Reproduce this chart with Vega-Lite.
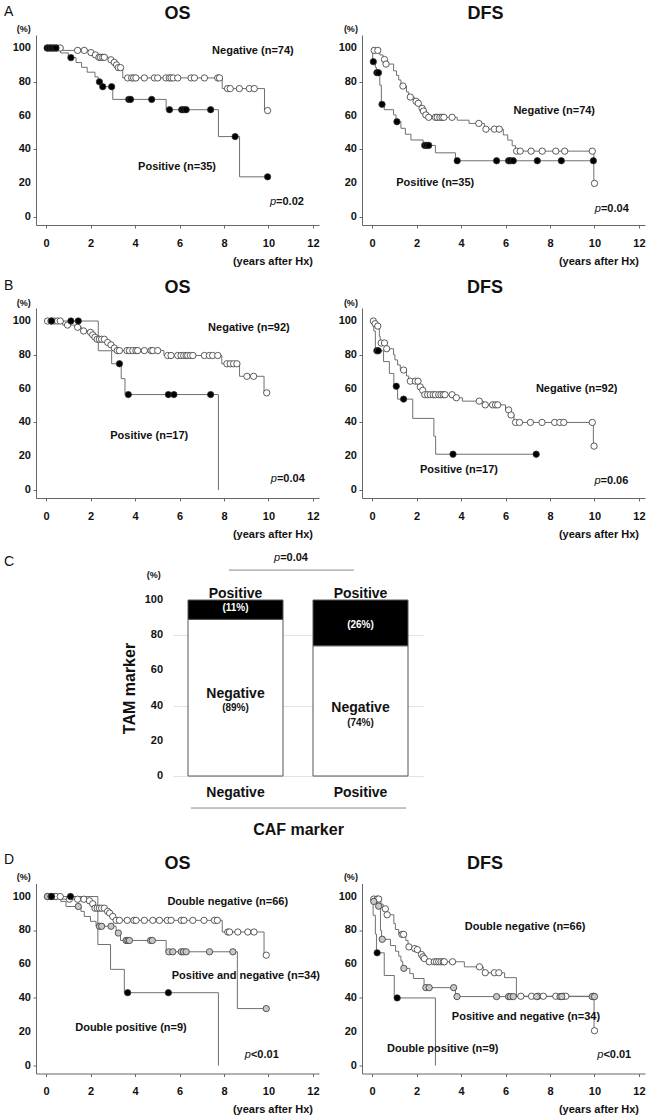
{
"$schema":"https://vega.github.io/schema/vega-lite/v6.json",
"padding":{"left":3,"top":4,"right":0,"bottom":0},
"config":{"font":"Liberation Sans","view":{"stroke":null},
 "axis":{"labelFont":"Liberation Sans","labelFontWeight":"bold","labelColor":"#111","labelFontSize":11,"domainColor":"#666","tickColor":"#666","grid":false,"titleFont":"Liberation Sans","titleColor":"#111","labelOverlap":false,"labelBound":false,"labelFlush":false},
 "text":{"font":"Liberation Sans","color":"#111"}},
"datasets":{
"yt":[{"v":0},{"v":20},{"v":40},{"v":60},{"v":80},{"v":100}],
"aos":[
{"g":"Negative","t":0,"s":100,"c":0},{"g":"Negative","t":0.07,"s":100,"c":1},{"g":"Negative","t":0.2,"s":100,"c":1},{"g":"Negative","t":0.35,"s":100,"c":1},{"g":"Negative","t":0.5,"s":100,"c":1},{"g":"Negative","t":0.64,"s":100,"c":1},{"g":"Negative","t":0.75,"s":98.6,"c":0},{"g":"Negative","t":1.42,"s":98.6,"c":1},{"g":"Negative","t":1.72,"s":98.6,"c":1},{"g":"Negative","t":1.95,"s":97.3,"c":0},{"g":"Negative","t":2.02,"s":97.3,"c":1},{"g":"Negative","t":2.1,"s":95.9,"c":0},{"g":"Negative","t":2.22,"s":95.9,"c":1},{"g":"Negative","t":2.3,"s":94.5,"c":0},{"g":"Negative","t":2.38,"s":94.5,"c":1},{"g":"Negative","t":2.45,"s":94.5,"c":1},{"g":"Negative","t":2.55,"s":94.5,"c":1},{"g":"Negative","t":2.62,"s":94.5,"c":1},{"g":"Negative","t":2.85,"s":93.0,"c":0},{"g":"Negative","t":2.92,"s":93.0,"c":1},{"g":"Negative","t":3.0,"s":91.5,"c":0},{"g":"Negative","t":3.07,"s":91.5,"c":1},{"g":"Negative","t":3.12,"s":90.0,"c":0},{"g":"Negative","t":3.17,"s":90.0,"c":1},{"g":"Negative","t":3.2,"s":88.4,"c":0},{"g":"Negative","t":3.25,"s":88.4,"c":1},{"g":"Negative","t":3.35,"s":88.4,"c":1},{"g":"Negative","t":3.45,"s":82.3,"c":0},{"g":"Negative","t":3.67,"s":82.3,"c":1},{"g":"Negative","t":3.85,"s":82.3,"c":1},{"g":"Negative","t":3.94,"s":82.3,"c":1},{"g":"Negative","t":4.04,"s":82.3,"c":1},{"g":"Negative","t":4.42,"s":82.3,"c":1},{"g":"Negative","t":4.87,"s":82.3,"c":1},{"g":"Negative","t":5.02,"s":82.3,"c":1},{"g":"Negative","t":5.39,"s":82.3,"c":1},{"g":"Negative","t":5.54,"s":82.3,"c":1},{"g":"Negative","t":5.62,"s":82.3,"c":1},{"g":"Negative","t":5.72,"s":82.3,"c":1},{"g":"Negative","t":5.92,"s":82.3,"c":1},{"g":"Negative","t":6.52,"s":82.3,"c":1},{"g":"Negative","t":6.67,"s":82.3,"c":1},{"g":"Negative","t":7.12,"s":82.3,"c":1},{"g":"Negative","t":7.72,"s":82.3,"c":1},{"g":"Negative","t":7.8,"s":82.3,"c":1},{"g":"Negative","t":7.92,"s":76.0,"c":0},{"g":"Negative","t":8.16,"s":76.0,"c":1},{"g":"Negative","t":8.28,"s":76.0,"c":1},{"g":"Negative","t":8.69,"s":76.0,"c":1},{"g":"Negative","t":9.14,"s":76.0,"c":1},{"g":"Negative","t":9.36,"s":76.0,"c":1},{"g":"Negative","t":9.82,"s":63.0,"c":0},{"g":"Negative","t":9.96,"s":63.0,"c":1},
{"g":"Positive","t":0,"s":100,"c":0},{"g":"Positive","t":0.05,"s":100,"c":1},{"g":"Positive","t":0.15,"s":100,"c":1},{"g":"Positive","t":0.25,"s":100,"c":1},{"g":"Positive","t":0.35,"s":100,"c":1},{"g":"Positive","t":0.45,"s":100,"c":1},{"g":"Positive","t":0.65,"s":97.1,"c":0},{"g":"Positive","t":1.0,"s":94.3,"c":0},{"g":"Positive","t":1.12,"s":94.3,"c":1},{"g":"Positive","t":1.35,"s":91.4,"c":0},{"g":"Positive","t":1.6,"s":88.6,"c":0},{"g":"Positive","t":1.85,"s":85.7,"c":0},{"g":"Positive","t":2.2,"s":82.9,"c":0},{"g":"Positive","t":2.35,"s":80.0,"c":0},{"g":"Positive","t":2.4,"s":80.0,"c":1},{"g":"Positive","t":2.5,"s":77.1,"c":0},{"g":"Positive","t":2.55,"s":77.1,"c":1},{"g":"Positive","t":2.95,"s":77.1,"c":1},{"g":"Positive","t":3.0,"s":69.6,"c":0},{"g":"Positive","t":3.72,"s":69.6,"c":1},{"g":"Positive","t":3.8,"s":69.6,"c":1},{"g":"Positive","t":4.75,"s":69.6,"c":1},{"g":"Positive","t":5.4,"s":63.5,"c":0},{"g":"Positive","t":5.55,"s":63.5,"c":1},{"g":"Positive","t":6.1,"s":63.5,"c":1},{"g":"Positive","t":6.2,"s":63.5,"c":1},{"g":"Positive","t":6.3,"s":63.5,"c":1},{"g":"Positive","t":7.4,"s":63.5,"c":1},{"g":"Positive","t":7.75,"s":47.6,"c":0},{"g":"Positive","t":8.5,"s":47.6,"c":1},{"g":"Positive","t":8.7,"s":23.8,"c":0},{"g":"Positive","t":9.96,"s":23.8,"c":1}],
"adfs":[
{"g":"Negative","t":0,"s":100,"c":0},{"g":"Negative","t":0.05,"s":98.6,"c":0},{"g":"Negative","t":0.1,"s":98.6,"c":1},{"g":"Negative","t":0.26,"s":98.6,"c":1},{"g":"Negative","t":0.35,"s":95.9,"c":0},{"g":"Negative","t":0.5,"s":93.2,"c":0},{"g":"Negative","t":0.56,"s":93.2,"c":1},{"g":"Negative","t":0.6,"s":90.5,"c":0},{"g":"Negative","t":0.63,"s":90.5,"c":1},{"g":"Negative","t":0.97,"s":86.5,"c":0},{"g":"Negative","t":1.1,"s":83.8,"c":0},{"g":"Negative","t":1.2,"s":81.1,"c":0},{"g":"Negative","t":1.3,"s":77.5,"c":0},{"g":"Negative","t":1.39,"s":77.5,"c":1},{"g":"Negative","t":1.55,"s":74.0,"c":0},{"g":"Negative","t":1.65,"s":71.0,"c":0},{"g":"Negative","t":1.72,"s":71.0,"c":1},{"g":"Negative","t":1.9,"s":68.5,"c":0},{"g":"Negative","t":1.98,"s":68.5,"c":1},{"g":"Negative","t":2.05,"s":67.3,"c":0},{"g":"Negative","t":2.08,"s":67.3,"c":1},{"g":"Negative","t":2.2,"s":64.3,"c":0},{"g":"Negative","t":2.25,"s":64.3,"c":1},{"g":"Negative","t":2.28,"s":62.7,"c":0},{"g":"Negative","t":2.31,"s":62.7,"c":1},{"g":"Negative","t":2.38,"s":60.4,"c":0},{"g":"Negative","t":2.42,"s":60.4,"c":1},{"g":"Negative","t":2.5,"s":59.0,"c":0},{"g":"Negative","t":2.55,"s":59.0,"c":1},{"g":"Negative","t":2.85,"s":59.0,"c":1},{"g":"Negative","t":2.93,"s":59.0,"c":1},{"g":"Negative","t":3.05,"s":59.0,"c":1},{"g":"Negative","t":3.15,"s":59.0,"c":1},{"g":"Negative","t":3.23,"s":59.0,"c":1},{"g":"Negative","t":3.6,"s":59.0,"c":1},{"g":"Negative","t":3.83,"s":57.3,"c":0},{"g":"Negative","t":4.36,"s":55.4,"c":0},{"g":"Negative","t":4.8,"s":55.4,"c":1},{"g":"Negative","t":5.05,"s":52.0,"c":0},{"g":"Negative","t":5.12,"s":52.0,"c":1},{"g":"Negative","t":5.5,"s":52.0,"c":1},{"g":"Negative","t":5.72,"s":52.0,"c":1},{"g":"Negative","t":5.9,"s":48.6,"c":0},{"g":"Negative","t":6.1,"s":45.5,"c":0},{"g":"Negative","t":6.3,"s":42.2,"c":0},{"g":"Negative","t":6.45,"s":39.0,"c":0},{"g":"Negative","t":6.5,"s":39.0,"c":1},{"g":"Negative","t":6.66,"s":39.0,"c":1},{"g":"Negative","t":7.15,"s":39.0,"c":1},{"g":"Negative","t":7.65,"s":39.0,"c":1},{"g":"Negative","t":8.26,"s":39.0,"c":1},{"g":"Negative","t":8.66,"s":39.0,"c":1},{"g":"Negative","t":9.9,"s":39.0,"c":1},{"g":"Negative","t":9.97,"s":19.9,"c":0},{"g":"Negative","t":10.0,"s":19.9,"c":1},
{"g":"Positive","t":0,"s":100,"c":0},{"g":"Positive","t":0.03,"s":91.9,"c":0},{"g":"Positive","t":0.06,"s":91.9,"c":1},{"g":"Positive","t":0.15,"s":88.5,"c":0},{"g":"Positive","t":0.2,"s":85.4,"c":0},{"g":"Positive","t":0.22,"s":85.4,"c":1},{"g":"Positive","t":0.29,"s":85.4,"c":1},{"g":"Positive","t":0.35,"s":78.0,"c":0},{"g":"Positive","t":0.42,"s":66.7,"c":0},{"g":"Positive","t":0.45,"s":66.7,"c":1},{"g":"Positive","t":0.55,"s":63.5,"c":0},{"g":"Positive","t":0.97,"s":60.4,"c":0},{"g":"Positive","t":1.08,"s":56.4,"c":0},{"g":"Positive","t":1.12,"s":56.4,"c":1},{"g":"Positive","t":1.3,"s":52.5,"c":0},{"g":"Positive","t":1.5,"s":49.0,"c":0},{"g":"Positive","t":1.75,"s":45.6,"c":0},{"g":"Positive","t":2.3,"s":42.4,"c":0},{"g":"Positive","t":2.37,"s":42.4,"c":1},{"g":"Positive","t":2.45,"s":42.4,"c":1},{"g":"Positive","t":2.55,"s":42.4,"c":1},{"g":"Positive","t":2.85,"s":38.0,"c":0},{"g":"Positive","t":3.75,"s":33.3,"c":0},{"g":"Positive","t":3.83,"s":33.3,"c":1},{"g":"Positive","t":5.6,"s":33.3,"c":1},{"g":"Positive","t":6.14,"s":33.3,"c":1},{"g":"Positive","t":6.22,"s":33.3,"c":1},{"g":"Positive","t":6.35,"s":33.3,"c":1},{"g":"Positive","t":7.43,"s":33.3,"c":1},{"g":"Positive","t":8.51,"s":33.3,"c":1},{"g":"Positive","t":9.95,"s":33.3,"c":1}],
"bos":[
{"g":"Negative","t":0,"s":100,"c":0},{"g":"Negative","t":0.07,"s":100,"c":1},{"g":"Negative","t":0.22,"s":100,"c":1},{"g":"Negative","t":0.37,"s":100,"c":1},{"g":"Negative","t":0.52,"s":100,"c":1},{"g":"Negative","t":0.64,"s":100,"c":1},{"g":"Negative","t":0.75,"s":97.6,"c":0},{"g":"Negative","t":0.97,"s":97.6,"c":1},{"g":"Negative","t":1.3,"s":96.3,"c":0},{"g":"Negative","t":1.42,"s":96.3,"c":1},{"g":"Negative","t":1.6,"s":94.1,"c":0},{"g":"Negative","t":1.69,"s":94.1,"c":1},{"g":"Negative","t":1.95,"s":93.3,"c":0},{"g":"Negative","t":2.0,"s":93.3,"c":1},{"g":"Negative","t":2.05,"s":91.8,"c":0},{"g":"Negative","t":2.1,"s":91.8,"c":1},{"g":"Negative","t":2.15,"s":90.4,"c":0},{"g":"Negative","t":2.2,"s":90.4,"c":1},{"g":"Negative","t":2.25,"s":89.2,"c":0},{"g":"Negative","t":2.3,"s":89.2,"c":1},{"g":"Negative","t":2.4,"s":89.2,"c":1},{"g":"Negative","t":2.5,"s":89.2,"c":1},{"g":"Negative","t":2.62,"s":89.2,"c":1},{"g":"Negative","t":2.72,"s":87.3,"c":0},{"g":"Negative","t":2.77,"s":87.3,"c":1},{"g":"Negative","t":2.85,"s":85.9,"c":0},{"g":"Negative","t":2.92,"s":85.9,"c":1},{"g":"Negative","t":3.0,"s":84.0,"c":0},{"g":"Negative","t":3.07,"s":84.0,"c":1},{"g":"Negative","t":3.15,"s":82.5,"c":0},{"g":"Negative","t":3.2,"s":82.5,"c":1},{"g":"Negative","t":3.3,"s":82.5,"c":1},{"g":"Negative","t":3.64,"s":82.5,"c":1},{"g":"Negative","t":3.75,"s":82.5,"c":1},{"g":"Negative","t":3.9,"s":82.5,"c":1},{"g":"Negative","t":4.04,"s":82.5,"c":1},{"g":"Negative","t":4.12,"s":82.5,"c":1},{"g":"Negative","t":4.42,"s":82.5,"c":1},{"g":"Negative","t":4.72,"s":82.5,"c":1},{"g":"Negative","t":4.8,"s":82.5,"c":1},{"g":"Negative","t":5.02,"s":82.5,"c":1},{"g":"Negative","t":5.3,"s":79.6,"c":0},{"g":"Negative","t":5.47,"s":79.6,"c":1},{"g":"Negative","t":5.62,"s":79.6,"c":1},{"g":"Negative","t":5.92,"s":79.6,"c":1},{"g":"Negative","t":6.07,"s":79.6,"c":1},{"g":"Negative","t":6.19,"s":79.6,"c":1},{"g":"Negative","t":6.3,"s":79.6,"c":1},{"g":"Negative","t":6.37,"s":79.6,"c":1},{"g":"Negative","t":6.49,"s":79.6,"c":1},{"g":"Negative","t":6.6,"s":79.6,"c":1},{"g":"Negative","t":7.12,"s":79.6,"c":1},{"g":"Negative","t":7.34,"s":79.6,"c":1},{"g":"Negative","t":7.49,"s":79.6,"c":1},{"g":"Negative","t":7.72,"s":79.6,"c":1},{"g":"Negative","t":7.9,"s":74.7,"c":0},{"g":"Negative","t":8.13,"s":74.7,"c":1},{"g":"Negative","t":8.28,"s":74.7,"c":1},{"g":"Negative","t":8.43,"s":74.7,"c":1},{"g":"Negative","t":8.58,"s":74.7,"c":1},{"g":"Negative","t":8.7,"s":67.3,"c":0},{"g":"Negative","t":9.03,"s":67.3,"c":1},{"g":"Negative","t":9.33,"s":67.3,"c":1},{"g":"Negative","t":9.8,"s":57.5,"c":0},{"g":"Negative","t":9.92,"s":57.5,"c":1},
{"g":"Positive","t":0,"s":100,"c":0},{"g":"Positive","t":0.25,"s":100,"c":1},{"g":"Positive","t":1.12,"s":100,"c":1},{"g":"Positive","t":1.45,"s":100,"c":1},{"g":"Positive","t":2.35,"s":82.4,"c":0},{"g":"Positive","t":2.95,"s":74.7,"c":0},{"g":"Positive","t":3.3,"s":74.7,"c":1},{"g":"Positive","t":3.38,"s":65.9,"c":0},{"g":"Positive","t":3.55,"s":56.5,"c":0},{"g":"Positive","t":3.7,"s":56.5,"c":1},{"g":"Positive","t":5.5,"s":56.5,"c":1},{"g":"Positive","t":5.75,"s":56.5,"c":1},{"g":"Positive","t":7.4,"s":56.5,"c":1},{"g":"Positive","t":7.75,"s":0,"c":0}],
"bdfs":[
{"g":"Negative","t":0,"s":100,"c":0},{"g":"Negative","t":0.06,"s":100,"c":1},{"g":"Negative","t":0.1,"s":98.4,"c":0},{"g":"Negative","t":0.14,"s":98.4,"c":1},{"g":"Negative","t":0.22,"s":97.0,"c":0},{"g":"Negative","t":0.26,"s":97.0,"c":1},{"g":"Negative","t":0.33,"s":91.0,"c":0},{"g":"Negative","t":0.37,"s":87.0,"c":0},{"g":"Negative","t":0.41,"s":87.0,"c":1},{"g":"Negative","t":0.56,"s":87.0,"c":1},{"g":"Negative","t":0.6,"s":83.6,"c":0},{"g":"Negative","t":0.66,"s":83.6,"c":1},{"g":"Negative","t":0.97,"s":80.0,"c":0},{"g":"Negative","t":1.03,"s":77.0,"c":0},{"g":"Negative","t":1.15,"s":74.0,"c":0},{"g":"Negative","t":1.27,"s":71.0,"c":0},{"g":"Negative","t":1.42,"s":71.0,"c":1},{"g":"Negative","t":1.55,"s":67.5,"c":0},{"g":"Negative","t":1.65,"s":64.4,"c":0},{"g":"Negative","t":1.72,"s":64.4,"c":1},{"g":"Negative","t":1.95,"s":64.4,"c":1},{"g":"Negative","t":2.07,"s":64.4,"c":1},{"g":"Negative","t":2.13,"s":61.0,"c":0},{"g":"Negative","t":2.17,"s":61.0,"c":1},{"g":"Negative","t":2.25,"s":59.0,"c":0},{"g":"Negative","t":2.28,"s":59.0,"c":1},{"g":"Negative","t":2.33,"s":56.4,"c":0},{"g":"Negative","t":2.37,"s":56.4,"c":1},{"g":"Negative","t":2.5,"s":56.4,"c":1},{"g":"Negative","t":2.62,"s":56.4,"c":1},{"g":"Negative","t":2.75,"s":56.4,"c":1},{"g":"Negative","t":2.85,"s":56.4,"c":1},{"g":"Negative","t":3.0,"s":56.4,"c":1},{"g":"Negative","t":3.1,"s":56.4,"c":1},{"g":"Negative","t":3.2,"s":56.4,"c":1},{"g":"Negative","t":3.28,"s":56.4,"c":1},{"g":"Negative","t":3.6,"s":56.4,"c":1},{"g":"Negative","t":3.75,"s":54.6,"c":0},{"g":"Negative","t":3.79,"s":54.6,"c":1},{"g":"Negative","t":4.06,"s":52.6,"c":0},{"g":"Negative","t":4.82,"s":52.6,"c":1},{"g":"Negative","t":5.0,"s":50.4,"c":0},{"g":"Negative","t":5.09,"s":50.4,"c":1},{"g":"Negative","t":5.42,"s":50.4,"c":1},{"g":"Negative","t":5.55,"s":50.4,"c":1},{"g":"Negative","t":5.65,"s":50.4,"c":1},{"g":"Negative","t":6.0,"s":47.4,"c":0},{"g":"Negative","t":6.14,"s":47.4,"c":1},{"g":"Negative","t":6.2,"s":44.4,"c":0},{"g":"Negative","t":6.25,"s":44.4,"c":1},{"g":"Negative","t":6.38,"s":40.0,"c":0},{"g":"Negative","t":6.45,"s":40.0,"c":1},{"g":"Negative","t":6.63,"s":40.0,"c":1},{"g":"Negative","t":7.12,"s":40.0,"c":1},{"g":"Negative","t":7.64,"s":40.0,"c":1},{"g":"Negative","t":8.21,"s":40.0,"c":1},{"g":"Negative","t":8.44,"s":40.0,"c":1},{"g":"Negative","t":8.62,"s":40.0,"c":1},{"g":"Negative","t":9.9,"s":40.0,"c":1},{"g":"Negative","t":9.95,"s":26.0,"c":0},{"g":"Negative","t":9.98,"s":26.0,"c":1},
{"g":"Positive","t":0,"s":100,"c":0},{"g":"Positive","t":0.08,"s":94.1,"c":0},{"g":"Positive","t":0.15,"s":82.4,"c":0},{"g":"Positive","t":0.22,"s":82.4,"c":1},{"g":"Positive","t":0.28,"s":82.4,"c":1},{"g":"Positive","t":0.52,"s":76.0,"c":0},{"g":"Positive","t":0.78,"s":69.0,"c":0},{"g":"Positive","t":0.98,"s":61.4,"c":0},{"g":"Positive","t":1.09,"s":61.4,"c":1},{"g":"Positive","t":1.15,"s":53.8,"c":0},{"g":"Positive","t":1.42,"s":53.8,"c":1},{"g":"Positive","t":1.83,"s":42.4,"c":0},{"g":"Positive","t":2.78,"s":31.8,"c":0},{"g":"Positive","t":2.86,"s":21.2,"c":0},{"g":"Positive","t":3.64,"s":21.2,"c":1},{"g":"Positive","t":7.38,"s":21.2,"c":1}],
"dos":[
{"g":"Double negative","t":0,"s":100,"c":0},{"g":"Double negative","t":0.07,"s":100,"c":1},{"g":"Double negative","t":0.22,"s":100,"c":1},{"g":"Double negative","t":0.37,"s":100,"c":1},{"g":"Double negative","t":0.45,"s":100,"c":1},{"g":"Double negative","t":0.64,"s":100,"c":1},{"g":"Double negative","t":0.7,"s":98.4,"c":0},{"g":"Double negative","t":1.05,"s":98.4,"c":1},{"g":"Double negative","t":1.42,"s":98.4,"c":1},{"g":"Double negative","t":1.7,"s":98.4,"c":1},{"g":"Double negative","t":1.85,"s":97.5,"c":0},{"g":"Double negative","t":1.95,"s":97.5,"c":1},{"g":"Double negative","t":2.05,"s":95.7,"c":0},{"g":"Double negative","t":2.1,"s":95.7,"c":1},{"g":"Double negative","t":2.15,"s":93.1,"c":0},{"g":"Double negative","t":2.2,"s":93.1,"c":1},{"g":"Double negative","t":2.3,"s":93.1,"c":1},{"g":"Double negative","t":2.4,"s":93.1,"c":1},{"g":"Double negative","t":2.5,"s":93.1,"c":1},{"g":"Double negative","t":2.62,"s":93.1,"c":1},{"g":"Double negative","t":2.7,"s":91.2,"c":0},{"g":"Double negative","t":2.77,"s":91.2,"c":1},{"g":"Double negative","t":2.82,"s":90.2,"c":0},{"g":"Double negative","t":2.86,"s":90.2,"c":1},{"g":"Double negative","t":2.95,"s":88.2,"c":0},{"g":"Double negative","t":3.0,"s":88.2,"c":1},{"g":"Double negative","t":3.08,"s":85.9,"c":0},{"g":"Double negative","t":3.15,"s":85.9,"c":1},{"g":"Double negative","t":3.3,"s":85.9,"c":1},{"g":"Double negative","t":3.65,"s":85.9,"c":1},{"g":"Double negative","t":3.95,"s":85.9,"c":1},{"g":"Double negative","t":4.05,"s":85.9,"c":1},{"g":"Double negative","t":4.42,"s":85.9,"c":1},{"g":"Double negative","t":4.8,"s":85.9,"c":1},{"g":"Double negative","t":5.1,"s":85.9,"c":1},{"g":"Double negative","t":5.45,"s":85.9,"c":1},{"g":"Double negative","t":5.62,"s":85.9,"c":1},{"g":"Double negative","t":6.08,"s":85.9,"c":1},{"g":"Double negative","t":6.2,"s":85.9,"c":1},{"g":"Double negative","t":6.6,"s":85.9,"c":1},{"g":"Double negative","t":7.1,"s":85.9,"c":1},{"g":"Double negative","t":7.57,"s":85.9,"c":1},{"g":"Double negative","t":7.7,"s":85.9,"c":1},{"g":"Double negative","t":7.92,"s":79.0,"c":0},{"g":"Double negative","t":8.17,"s":79.0,"c":1},{"g":"Double negative","t":8.25,"s":79.0,"c":1},{"g":"Double negative","t":8.62,"s":79.0,"c":1},{"g":"Double negative","t":9.07,"s":79.0,"c":1},{"g":"Double negative","t":9.35,"s":79.0,"c":1},{"g":"Double negative","t":9.8,"s":65.3,"c":0},{"g":"Double negative","t":9.9,"s":65.3,"c":1},
{"g":"Positive and negative","t":0,"s":100,"c":0},{"g":"Positive and negative","t":0.07,"s":100,"c":1},{"g":"Positive and negative","t":0.22,"s":100,"c":1},{"g":"Positive and negative","t":0.67,"s":97.1,"c":0},{"g":"Positive and negative","t":0.9,"s":94.1,"c":0},{"g":"Positive and negative","t":1.45,"s":94.1,"c":1},{"g":"Positive and negative","t":1.57,"s":91.2,"c":0},{"g":"Positive and negative","t":1.72,"s":88.2,"c":0},{"g":"Positive and negative","t":2.0,"s":85.3,"c":0},{"g":"Positive and negative","t":2.25,"s":82.4,"c":0},{"g":"Positive and negative","t":2.4,"s":82.4,"c":1},{"g":"Positive and negative","t":2.5,"s":82.4,"c":1},{"g":"Positive and negative","t":2.92,"s":82.4,"c":1},{"g":"Positive and negative","t":3.15,"s":78.4,"c":0},{"g":"Positive and negative","t":3.25,"s":78.4,"c":1},{"g":"Positive and negative","t":3.35,"s":74.0,"c":0},{"g":"Positive and negative","t":3.6,"s":74.0,"c":1},{"g":"Positive and negative","t":3.68,"s":74.0,"c":1},{"g":"Positive and negative","t":3.75,"s":74.0,"c":1},{"g":"Positive and negative","t":4.7,"s":74.0,"c":1},{"g":"Positive and negative","t":4.78,"s":74.0,"c":1},{"g":"Positive and negative","t":5.4,"s":67.3,"c":0},{"g":"Positive and negative","t":5.52,"s":67.3,"c":1},{"g":"Positive and negative","t":5.7,"s":67.3,"c":1},{"g":"Positive and negative","t":6.08,"s":67.3,"c":1},{"g":"Positive and negative","t":6.18,"s":67.3,"c":1},{"g":"Positive and negative","t":6.3,"s":67.3,"c":1},{"g":"Positive and negative","t":7.35,"s":67.3,"c":1},{"g":"Positive and negative","t":8.4,"s":67.3,"c":1},{"g":"Positive and negative","t":8.6,"s":33.7,"c":0},{"g":"Positive and negative","t":9.9,"s":33.7,"c":1},
{"g":"Double positive","t":0,"s":100,"c":0},{"g":"Double positive","t":0.25,"s":100,"c":1},{"g":"Double positive","t":1.1,"s":100,"c":1},{"g":"Double positive","t":2.33,"s":71.6,"c":0},{"g":"Double positive","t":2.9,"s":56.9,"c":0},{"g":"Double positive","t":3.52,"s":43.1,"c":0},{"g":"Double positive","t":3.67,"s":43.1,"c":1},{"g":"Double positive","t":5.5,"s":43.1,"c":1},{"g":"Double positive","t":7.75,"s":0,"c":0}],
"ddfs":[
{"g":"Double negative","t":0,"s":100,"c":0},{"g":"Double negative","t":0.05,"s":98.5,"c":0},{"g":"Double negative","t":0.08,"s":98.5,"c":1},{"g":"Double negative","t":0.23,"s":98.5,"c":1},{"g":"Double negative","t":0.3,"s":98.5,"c":1},{"g":"Double negative","t":0.4,"s":95.5,"c":0},{"g":"Double negative","t":0.5,"s":92.7,"c":0},{"g":"Double negative","t":0.6,"s":92.7,"c":1},{"g":"Double negative","t":0.63,"s":89.2,"c":0},{"g":"Double negative","t":0.68,"s":89.2,"c":1},{"g":"Double negative","t":0.98,"s":84.0,"c":0},{"g":"Double negative","t":1.05,"s":80.5,"c":0},{"g":"Double negative","t":1.2,"s":77.6,"c":0},{"g":"Double negative","t":1.35,"s":77.6,"c":1},{"g":"Double negative","t":1.42,"s":77.6,"c":1},{"g":"Double negative","t":1.52,"s":74.0,"c":0},{"g":"Double negative","t":1.62,"s":70.2,"c":0},{"g":"Double negative","t":1.66,"s":70.2,"c":1},{"g":"Double negative","t":1.8,"s":69.2,"c":0},{"g":"Double negative","t":1.92,"s":69.2,"c":1},{"g":"Double negative","t":2.0,"s":68.6,"c":0},{"g":"Double negative","t":2.04,"s":68.6,"c":1},{"g":"Double negative","t":2.15,"s":65.7,"c":0},{"g":"Double negative","t":2.22,"s":65.7,"c":1},{"g":"Double negative","t":2.26,"s":64.3,"c":0},{"g":"Double negative","t":2.29,"s":64.3,"c":1},{"g":"Double negative","t":2.32,"s":63.3,"c":0},{"g":"Double negative","t":2.35,"s":63.3,"c":1},{"g":"Double negative","t":2.45,"s":61.4,"c":0},{"g":"Double negative","t":2.57,"s":61.4,"c":1},{"g":"Double negative","t":2.8,"s":61.4,"c":1},{"g":"Double negative","t":2.9,"s":61.4,"c":1},{"g":"Double negative","t":3.0,"s":61.4,"c":1},{"g":"Double negative","t":3.1,"s":61.4,"c":1},{"g":"Double negative","t":3.2,"s":61.4,"c":1},{"g":"Double negative","t":3.25,"s":61.4,"c":1},{"g":"Double negative","t":3.62,"s":61.4,"c":1},{"g":"Double negative","t":4.15,"s":58.4,"c":0},{"g":"Double negative","t":4.83,"s":58.4,"c":1},{"g":"Double negative","t":5.0,"s":54.9,"c":0},{"g":"Double negative","t":5.09,"s":54.9,"c":1},{"g":"Double negative","t":5.5,"s":54.9,"c":1},{"g":"Double negative","t":5.7,"s":54.9,"c":1},{"g":"Double negative","t":5.96,"s":52.0,"c":0},{"g":"Double negative","t":6.49,"s":41.0,"c":0},{"g":"Double negative","t":6.69,"s":41.0,"c":1},{"g":"Double negative","t":7.17,"s":41.0,"c":1},{"g":"Double negative","t":7.47,"s":41.0,"c":1},{"g":"Double negative","t":7.7,"s":41.0,"c":1},{"g":"Double negative","t":8.26,"s":41.0,"c":1},{"g":"Double negative","t":8.6,"s":41.0,"c":1},{"g":"Double negative","t":8.71,"s":41.0,"c":1},{"g":"Double negative","t":9.96,"s":41.0,"c":1},{"g":"Double negative","t":9.98,"s":20.6,"c":0},{"g":"Double negative","t":10.0,"s":20.6,"c":1},
{"g":"Positive and negative","t":0,"s":100,"c":0},{"g":"Positive and negative","t":0.03,"s":97.1,"c":0},{"g":"Positive and negative","t":0.08,"s":97.1,"c":1},{"g":"Positive and negative","t":0.2,"s":94.3,"c":0},{"g":"Positive and negative","t":0.3,"s":94.3,"c":1},{"g":"Positive and negative","t":0.38,"s":80.0,"c":0},{"g":"Positive and negative","t":0.43,"s":74.7,"c":0},{"g":"Positive and negative","t":0.46,"s":74.7,"c":1},{"g":"Positive and negative","t":0.83,"s":71.0,"c":0},{"g":"Positive and negative","t":1.06,"s":67.6,"c":0},{"g":"Positive and negative","t":1.2,"s":64.7,"c":0},{"g":"Positive and negative","t":1.3,"s":61.7,"c":0},{"g":"Positive and negative","t":1.38,"s":57.5,"c":0},{"g":"Positive and negative","t":1.43,"s":57.5,"c":1},{"g":"Positive and negative","t":1.7,"s":54.4,"c":0},{"g":"Positive and negative","t":1.86,"s":51.5,"c":0},{"g":"Positive and negative","t":2.34,"s":46.1,"c":0},{"g":"Positive and negative","t":2.42,"s":46.1,"c":1},{"g":"Positive and negative","t":2.57,"s":46.1,"c":1},{"g":"Positive and negative","t":3.67,"s":46.1,"c":1},{"g":"Positive and negative","t":3.75,"s":40.8,"c":0},{"g":"Positive and negative","t":3.82,"s":40.8,"c":1},{"g":"Positive and negative","t":5.6,"s":40.8,"c":1},{"g":"Positive and negative","t":6.14,"s":40.8,"c":1},{"g":"Positive and negative","t":6.22,"s":40.8,"c":1},{"g":"Positive and negative","t":6.35,"s":40.8,"c":1},{"g":"Positive and negative","t":7.4,"s":40.8,"c":1},{"g":"Positive and negative","t":8.45,"s":40.8,"c":1},{"g":"Positive and negative","t":8.53,"s":40.8,"c":1},{"g":"Positive and negative","t":9.9,"s":40.8,"c":1},{"g":"Positive and negative","t":10.0,"s":40.8,"c":1},
{"g":"Double positive","t":0,"s":100,"c":0},{"g":"Double positive","t":0.05,"s":88.9,"c":0},{"g":"Double positive","t":0.15,"s":77.8,"c":0},{"g":"Double positive","t":0.2,"s":66.7,"c":0},{"g":"Double positive","t":0.23,"s":66.7,"c":1},{"g":"Double positive","t":0.55,"s":53.3,"c":0},{"g":"Double positive","t":1.0,"s":40.0,"c":0},{"g":"Double positive","t":1.13,"s":40.0,"c":1},{"g":"Double positive","t":2.85,"s":0,"c":0}],
"bars":[{"CAF":"Negative","TAM":"Negative","pct":89},{"CAF":"Negative","TAM":"Positive","pct":11},{"CAF":"Positive","TAM":"Negative","pct":74},{"CAF":"Positive","TAM":"Positive","pct":26}]
},
"spacing":15.5,
"vconcat":[
{"spacing":11,"vconcat":[
 {"bounds":"flush","spacing":43,"hconcat":[
  {"width":283,"height":190,"layer":[
   {"data":{"name":"aos"},"mark":{"type":"line","interpolate":"step-after","stroke":"#707070","strokeWidth":1},"encoding":{"x":{"field":"t","type":"quantitative","scale":{"domain":[-0.45,12.27],"nice":false,"zero":false},"axis":{"title":null,"values":[0,0.5,1,1.5,2,2.5,3,3.5,4,4.5,5,5.5,6,6.5,7,7.5,8,8.5,9,9.5,10,10.5,11,11.5,12],"labelExpr":"datum.value % 2 === 0 ? datum.label : ''","tickSize":3,"labelPadding":9}},"y":{"field":"s","type":"quantitative","scale":{"domain":[-4.7,107.7],"nice":false,"zero":false},"axis":{"title":null,"values":[0,10,20,30,40,50,60,70,80,90,100],"labels":false,"tickSize":3}},"detail":{"field":"g"}}},
   {"data":{"name":"aos"},"transform":[{"filter":"datum.c == 1"}],"mark":{"type":"point","shape":"circle","filled":true,"size":40,"stroke":"#333","strokeWidth":0.8,"opacity":1},"encoding":{"x":{"field":"t","type":"quantitative"},"y":{"field":"s","type":"quantitative"},"fill":{"field":"g","type":"nominal","scale":{"domain":["Negative","Positive","Double negative","Positive and negative","Double positive"],"range":["#ffffff","#000000","#ffffff","#c8c8c8","#000000"]},"legend":null}}},
   {"data":{"name":"yt"},"mark":{"type":"text","align":"right","baseline":"middle","fontSize":11,"fontWeight":"bold"},"encoding":{"x":{"datum":-0.675,"type":"quantitative"},"y":{"field":"v","type":"quantitative","title":null},"text":{"field":"v","type":"quantitative"}}},
   {"data":{"values":[{}]},"mark":{"type":"text","text":"A","fontSize":14,"align":"left","baseline":"alphabetic"},"encoding":{"x":{"datum":-1.89,"type":"quantitative"},"y":{"datum":119.1,"type":"quantitative"}}},
   {"data":{"values":[{}]},"mark":{"type":"text","text":"OS","fontSize":18,"fontWeight":"bold","align":"center","baseline":"alphabetic"},"encoding":{"x":{"datum":5.91,"type":"quantitative"},"y":{"datum":117.2,"type":"quantitative"}}},
   {"data":{"values":[{}]},"mark":{"type":"text","text":"(%)","fontSize":9,"fontWeight":"bold","align":"center","baseline":"middle"},"encoding":{"x":{"datum":-1.0,"type":"quantitative"},"y":{"datum":111,"type":"quantitative"}}},
   {"data":{"values":[{}]},"mark":{"type":"text","text":"Negative (n=74)","fontSize":11,"fontWeight":"bold","align":"center","baseline":"middle"},"encoding":{"x":{"datum":9.3,"type":"quantitative"},"y":{"datum":98.4,"type":"quantitative"}}},
   {"data":{"values":[{}]},"mark":{"type":"text","text":"Positive (n=35)","fontSize":11,"fontWeight":"bold","align":"center","baseline":"middle"},"encoding":{"x":{"datum":5.89,"type":"quantitative"},"y":{"datum":29.8,"type":"quantitative"}}},
   {"data":{"values":[{}]},"mark":{"type":"text","text":"p","fontSize":11,"fontStyle":"italic","align":"right","baseline":"middle"},"encoding":{"x":{"datum":10.34,"type":"quantitative"},"y":{"datum":8.7,"type":"quantitative"}}},
   {"data":{"values":[{}]},"mark":{"type":"text","text":"=0.02","fontSize":11,"fontWeight":"bold","align":"left","baseline":"middle"},"encoding":{"x":{"datum":10.34,"type":"quantitative"},"y":{"datum":8.7,"type":"quantitative"}}},
   {"data":{"values":[{}]},"mark":{"type":"text","text":"(years after Hx)","fontSize":11,"fontWeight":"bold","align":"right","baseline":"middle"},"encoding":{"x":{"datum":12.0,"type":"quantitative"},"y":{"datum":-26.5,"type":"quantitative"}}}
  ]},
  {"width":283,"height":190,"layer":[
   {"data":{"name":"adfs"},"mark":{"type":"line","interpolate":"step-after","stroke":"#707070","strokeWidth":1},"encoding":{"x":{"field":"t","type":"quantitative","scale":{"domain":[-0.45,12.27],"nice":false,"zero":false},"axis":{"title":null,"values":[0,0.5,1,1.5,2,2.5,3,3.5,4,4.5,5,5.5,6,6.5,7,7.5,8,8.5,9,9.5,10,10.5,11,11.5,12],"labelExpr":"datum.value % 2 === 0 ? datum.label : ''","tickSize":3,"labelPadding":9}},"y":{"field":"s","type":"quantitative","scale":{"domain":[-4.7,107.7],"nice":false,"zero":false},"axis":{"title":null,"values":[0,10,20,30,40,50,60,70,80,90,100],"labels":false,"tickSize":3}},"detail":{"field":"g"}}},
   {"data":{"name":"adfs"},"transform":[{"filter":"datum.c == 1"}],"mark":{"type":"point","shape":"circle","filled":true,"size":40,"stroke":"#333","strokeWidth":0.8,"opacity":1},"encoding":{"x":{"field":"t","type":"quantitative"},"y":{"field":"s","type":"quantitative"},"fill":{"field":"g","type":"nominal","scale":{"domain":["Negative","Positive","Double negative","Positive and negative","Double positive"],"range":["#ffffff","#000000","#ffffff","#c8c8c8","#000000"]},"legend":null}}},
   {"data":{"name":"yt"},"mark":{"type":"text","align":"right","baseline":"middle","fontSize":11,"fontWeight":"bold"},"encoding":{"x":{"datum":-0.675,"type":"quantitative"},"y":{"field":"v","type":"quantitative","title":null},"text":{"field":"v","type":"quantitative"}}},
   {"data":{"values":[{}]},"mark":{"type":"text","text":"DFS","fontSize":18,"fontWeight":"bold","align":"center","baseline":"alphabetic"},"encoding":{"x":{"datum":5.1,"type":"quantitative"},"y":{"datum":117.2,"type":"quantitative"}}},
   {"data":{"values":[{}]},"mark":{"type":"text","text":"(%)","fontSize":9,"fontWeight":"bold","align":"center","baseline":"middle"},"encoding":{"x":{"datum":-0.95,"type":"quantitative"},"y":{"datum":111,"type":"quantitative"}}},
   {"data":{"values":[{}]},"mark":{"type":"text","text":"Negative (n=74)","fontSize":11,"fontWeight":"bold","align":"center","baseline":"middle"},"encoding":{"x":{"datum":8.19,"type":"quantitative"},"y":{"datum":62.9,"type":"quantitative"}}},
   {"data":{"values":[{}]},"mark":{"type":"text","text":"Positive (n=35)","fontSize":11,"fontWeight":"bold","align":"center","baseline":"middle"},"encoding":{"x":{"datum":2.84,"type":"quantitative"},"y":{"datum":19.9,"type":"quantitative"}}},
   {"data":{"values":[{}]},"mark":{"type":"text","text":"p","fontSize":11,"fontStyle":"italic","align":"right","baseline":"middle"},"encoding":{"x":{"datum":10.29,"type":"quantitative"},"y":{"datum":4.7,"type":"quantitative"}}},
   {"data":{"values":[{}]},"mark":{"type":"text","text":"=0.04","fontSize":11,"fontWeight":"bold","align":"left","baseline":"middle"},"encoding":{"x":{"datum":10.29,"type":"quantitative"},"y":{"datum":4.7,"type":"quantitative"}}},
   {"data":{"values":[{}]},"mark":{"type":"text","text":"(years after Hx)","fontSize":11,"fontWeight":"bold","align":"right","baseline":"middle"},"encoding":{"x":{"datum":12.0,"type":"quantitative"},"y":{"datum":-26.5,"type":"quantitative"}}}
  ]}
 ]},
 {"bounds":"flush","spacing":43,"hconcat":[
  {"width":283,"height":190,"layer":[
   {"data":{"name":"bos"},"mark":{"type":"line","interpolate":"step-after","stroke":"#707070","strokeWidth":1},"encoding":{"x":{"field":"t","type":"quantitative","scale":{"domain":[-0.45,12.27],"nice":false,"zero":false},"axis":{"title":null,"values":[0,0.5,1,1.5,2,2.5,3,3.5,4,4.5,5,5.5,6,6.5,7,7.5,8,8.5,9,9.5,10,10.5,11,11.5,12],"labelExpr":"datum.value % 2 === 0 ? datum.label : ''","tickSize":3,"labelPadding":9}},"y":{"field":"s","type":"quantitative","scale":{"domain":[-4.7,107.7],"nice":false,"zero":false},"axis":{"title":null,"values":[0,10,20,30,40,50,60,70,80,90,100],"labels":false,"tickSize":3}},"detail":{"field":"g"}}},
   {"data":{"name":"bos"},"transform":[{"filter":"datum.c == 1"}],"mark":{"type":"point","shape":"circle","filled":true,"size":40,"stroke":"#333","strokeWidth":0.8,"opacity":1},"encoding":{"x":{"field":"t","type":"quantitative"},"y":{"field":"s","type":"quantitative"},"fill":{"field":"g","type":"nominal","scale":{"domain":["Negative","Positive","Double negative","Positive and negative","Double positive"],"range":["#ffffff","#000000","#ffffff","#c8c8c8","#000000"]},"legend":null}}},
   {"data":{"name":"yt"},"mark":{"type":"text","align":"right","baseline":"middle","fontSize":11,"fontWeight":"bold"},"encoding":{"x":{"datum":-0.675,"type":"quantitative"},"y":{"field":"v","type":"quantitative","title":null},"text":{"field":"v","type":"quantitative"}}},
   {"data":{"values":[{}]},"mark":{"type":"text","text":"B","fontSize":14,"align":"left","baseline":"alphabetic"},"encoding":{"x":{"datum":-1.89,"type":"quantitative"},"y":{"datum":118.3,"type":"quantitative"}}},
   {"data":{"values":[{}]},"mark":{"type":"text","text":"OS","fontSize":18,"fontWeight":"bold","align":"center","baseline":"alphabetic"},"encoding":{"x":{"datum":5.91,"type":"quantitative"},"y":{"datum":116.6,"type":"quantitative"}}},
   {"data":{"values":[{}]},"mark":{"type":"text","text":"(%)","fontSize":9,"fontWeight":"bold","align":"center","baseline":"middle"},"encoding":{"x":{"datum":-1.0,"type":"quantitative"},"y":{"datum":110.5,"type":"quantitative"}}},
   {"data":{"values":[{}]},"mark":{"type":"text","text":"Negative (n=92)","fontSize":11,"fontWeight":"bold","align":"center","baseline":"middle"},"encoding":{"x":{"datum":9.12,"type":"quantitative"},"y":{"datum":95.7,"type":"quantitative"}}},
   {"data":{"values":[{}]},"mark":{"type":"text","text":"Positive (n=17)","fontSize":11,"fontWeight":"bold","align":"center","baseline":"middle"},"encoding":{"x":{"datum":4.64,"type":"quantitative"},"y":{"datum":32,"type":"quantitative"}}},
   {"data":{"values":[{}]},"mark":{"type":"text","text":"p","fontSize":11,"fontStyle":"italic","align":"right","baseline":"middle"},"encoding":{"x":{"datum":10.38,"type":"quantitative"},"y":{"datum":6.5,"type":"quantitative"}}},
   {"data":{"values":[{}]},"mark":{"type":"text","text":"=0.04","fontSize":11,"fontWeight":"bold","align":"left","baseline":"middle"},"encoding":{"x":{"datum":10.38,"type":"quantitative"},"y":{"datum":6.5,"type":"quantitative"}}},
   {"data":{"values":[{}]},"mark":{"type":"text","text":"(years after Hx)","fontSize":11,"fontWeight":"bold","align":"right","baseline":"middle"},"encoding":{"x":{"datum":12.0,"type":"quantitative"},"y":{"datum":-26.5,"type":"quantitative"}}}
  ]},
  {"width":283,"height":190,"layer":[
   {"data":{"name":"bdfs"},"mark":{"type":"line","interpolate":"step-after","stroke":"#707070","strokeWidth":1},"encoding":{"x":{"field":"t","type":"quantitative","scale":{"domain":[-0.45,12.27],"nice":false,"zero":false},"axis":{"title":null,"values":[0,0.5,1,1.5,2,2.5,3,3.5,4,4.5,5,5.5,6,6.5,7,7.5,8,8.5,9,9.5,10,10.5,11,11.5,12],"labelExpr":"datum.value % 2 === 0 ? datum.label : ''","tickSize":3,"labelPadding":9}},"y":{"field":"s","type":"quantitative","scale":{"domain":[-4.7,107.7],"nice":false,"zero":false},"axis":{"title":null,"values":[0,10,20,30,40,50,60,70,80,90,100],"labels":false,"tickSize":3}},"detail":{"field":"g"}}},
   {"data":{"name":"bdfs"},"transform":[{"filter":"datum.c == 1"}],"mark":{"type":"point","shape":"circle","filled":true,"size":40,"stroke":"#333","strokeWidth":0.8,"opacity":1},"encoding":{"x":{"field":"t","type":"quantitative"},"y":{"field":"s","type":"quantitative"},"fill":{"field":"g","type":"nominal","scale":{"domain":["Negative","Positive","Double negative","Positive and negative","Double positive"],"range":["#ffffff","#000000","#ffffff","#c8c8c8","#000000"]},"legend":null}}},
   {"data":{"name":"yt"},"mark":{"type":"text","align":"right","baseline":"middle","fontSize":11,"fontWeight":"bold"},"encoding":{"x":{"datum":-0.675,"type":"quantitative"},"y":{"field":"v","type":"quantitative","title":null},"text":{"field":"v","type":"quantitative"}}},
   {"data":{"values":[{}]},"mark":{"type":"text","text":"DFS","fontSize":18,"fontWeight":"bold","align":"center","baseline":"alphabetic"},"encoding":{"x":{"datum":5.08,"type":"quantitative"},"y":{"datum":116.6,"type":"quantitative"}}},
   {"data":{"values":[{}]},"mark":{"type":"text","text":"(%)","fontSize":9,"fontWeight":"bold","align":"center","baseline":"middle"},"encoding":{"x":{"datum":-0.95,"type":"quantitative"},"y":{"datum":110.5,"type":"quantitative"}}},
   {"data":{"values":[{}]},"mark":{"type":"text","text":"Negative (n=92)","fontSize":11,"fontWeight":"bold","align":"center","baseline":"middle"},"encoding":{"x":{"datum":9.2,"type":"quantitative"},"y":{"datum":59.6,"type":"quantitative"}}},
   {"data":{"values":[{}]},"mark":{"type":"text","text":"Positive (n=17)","fontSize":11,"fontWeight":"bold","align":"center","baseline":"middle"},"encoding":{"x":{"datum":3.91,"type":"quantitative"},"y":{"datum":12,"type":"quantitative"}}},
   {"data":{"values":[{}]},"mark":{"type":"text","text":"p","fontSize":11,"fontStyle":"italic","align":"right","baseline":"middle"},"encoding":{"x":{"datum":10.27,"type":"quantitative"},"y":{"datum":5.5,"type":"quantitative"}}},
   {"data":{"values":[{}]},"mark":{"type":"text","text":"=0.06","fontSize":11,"fontWeight":"bold","align":"left","baseline":"middle"},"encoding":{"x":{"datum":10.27,"type":"quantitative"},"y":{"datum":5.5,"type":"quantitative"}}},
   {"data":{"values":[{}]},"mark":{"type":"text","text":"(years after Hx)","fontSize":11,"fontWeight":"bold","align":"right","baseline":"middle"},"encoding":{"x":{"datum":12.0,"type":"quantitative"},"y":{"datum":-26.5,"type":"quantitative"}}}
  ]}
 ]},
 {"bounds":"flush","spacing":0,"hconcat":[
  {"width":137,"height":176,"data":{"values":[{}]},"mark":{"type":"text","text":" "},"encoding":{}},
  {"width":250,"height":176,"layer":[
   {"data":{"name":"bars"},"mark":{"type":"bar","stroke":"#555","strokeWidth":1},"encoding":{"x":{"field":"CAF","type":"nominal","scale":{"domain":["Negative","Positive"],"paddingInner":0.24,"paddingOuter":0.12},"axis":{"title":"CAF marker","labelAngle":0,"ticks":false,"domain":false,"labelFontSize":14,"labelPadding":9,"titleFontSize":16,"titleFontWeight":"bold","titlePadding":22}},"y":{"field":"pct","type":"quantitative","stack":"zero","scale":{"domain":[0,100],"nice":false},"axis":{"title":"TAM marker","values":[0,20,40,60,80,100],"grid":true,"gridColor":"#e2e2e2","ticks":false,"domain":false,"labels":false,"titleFontSize":16,"titleFontWeight":"bold","titlePadding":36}},"order":{"field":"TAM","sort":"ascending"},"fill":{"field":"TAM","type":"nominal","scale":{"domain":["Negative","Positive","Double negative","Positive and negative","Double positive"],"range":["#ffffff","#000000","#ffffff","#c8c8c8","#000000"]},"legend":null}}},
   {"data":{"name":"yt"},"mark":{"type":"text","align":"right","baseline":"middle","fontSize":11,"fontWeight":"bold"},"encoding":{"x":{"datum":"Negative","bandPosition":-0.263},"y":{"field":"v","type":"quantitative"},"text":{"field":"v","type":"quantitative"}}},
   {"data":{"values":[{}]},"mark":{"type":"text","text":"C","fontSize":14,"align":"left","baseline":"alphabetic"},"encoding":{"x":{"datum":"Negative","bandPosition":-1.937},"y":{"datum":119.3,"type":"quantitative"}}},
   {"data":{"values":[{}]},"mark":{"type":"text","text":"Positive","fontSize":14,"fontWeight":"bold","align":"center","baseline":"alphabetic"},"encoding":{"x":{"datum":"Negative"},"y":{"datum":101.1,"type":"quantitative"}}},
   {"data":{"values":[{}]},"mark":{"type":"text","text":"Positive","fontSize":14,"fontWeight":"bold","align":"center","baseline":"alphabetic"},"encoding":{"x":{"datum":"Positive"},"y":{"datum":101.1,"type":"quantitative"}}},
   {"data":{"values":[{}]},"mark":{"type":"text","text":"(11%)","fontSize":10,"fontWeight":"bold","color":"#ffffff","align":"center","baseline":"middle"},"encoding":{"x":{"datum":"Negative"},"y":{"datum":95.5,"type":"quantitative"}}},
   {"data":{"values":[{}]},"mark":{"type":"text","text":"(26%)","fontSize":10,"fontWeight":"bold","color":"#ffffff","align":"center","baseline":"middle"},"encoding":{"x":{"datum":"Positive"},"y":{"datum":85.8,"type":"quantitative"}}},
   {"data":{"values":[{}]},"mark":{"type":"text","text":"Negative","fontSize":14,"fontWeight":"bold","align":"center","baseline":"middle"},"encoding":{"x":{"datum":"Negative"},"y":{"datum":46.6,"type":"quantitative"}}},
   {"data":{"values":[{}]},"mark":{"type":"text","text":"(89%)","fontSize":10,"fontWeight":"bold","align":"center","baseline":"middle"},"encoding":{"x":{"datum":"Negative"},"y":{"datum":38.6,"type":"quantitative"}}},
   {"data":{"values":[{}]},"mark":{"type":"text","text":"Negative","fontSize":14,"fontWeight":"bold","align":"center","baseline":"middle"},"encoding":{"x":{"datum":"Positive"},"y":{"datum":38.6,"type":"quantitative"}}},
   {"data":{"values":[{}]},"mark":{"type":"text","text":"(74%)","fontSize":10,"fontWeight":"bold","align":"center","baseline":"middle"},"encoding":{"x":{"datum":"Positive"},"y":{"datum":30.1,"type":"quantitative"}}},
   {"data":{"values":[{}]},"mark":{"type":"text","text":"(%)","fontSize":9,"fontWeight":"bold","align":"center","baseline":"middle"},"encoding":{"x":{"datum":"Negative","bandPosition":-0.36},"y":{"datum":114.2,"type":"quantitative"}}},
   {"data":{"values":[{}]},"mark":{"type":"text","text":"p","fontSize":11,"fontStyle":"italic","align":"right","baseline":"middle"},"encoding":{"x":{"datum":"Negative","bandPosition":0.97},"y":{"datum":123.9,"type":"quantitative"}}},
   {"data":{"values":[{}]},"mark":{"type":"text","text":"=0.04","fontSize":11,"fontWeight":"bold","align":"left","baseline":"middle"},"encoding":{"x":{"datum":"Negative","bandPosition":0.97},"y":{"datum":123.9,"type":"quantitative"}}},
   {"data":{"values":[{}]},"mark":{"type":"rule","stroke":"#888","strokeWidth":1},"encoding":{"x":{"datum":"Negative","bandPosition":0.43},"x2":{"datum":"Positive","bandPosition":0.43},"y":{"datum":117,"type":"quantitative"}}},
   {"data":{"values":[{}]},"mark":{"type":"rule","stroke":"#888","strokeWidth":1},"encoding":{"x":{"datum":"Negative","bandPosition":0.03},"x2":{"datum":"Positive","bandPosition":0.98},"y":{"datum":-18.2,"type":"quantitative"}}}
  ]}
 ]}
]},
 {"bounds":"flush","spacing":43,"hconcat":[
  {"width":283,"height":190,"layer":[
   {"data":{"name":"dos"},"mark":{"type":"line","interpolate":"step-after","stroke":"#707070","strokeWidth":1},"encoding":{"x":{"field":"t","type":"quantitative","scale":{"domain":[-0.45,12.27],"nice":false,"zero":false},"axis":{"title":null,"values":[0,0.5,1,1.5,2,2.5,3,3.5,4,4.5,5,5.5,6,6.5,7,7.5,8,8.5,9,9.5,10,10.5,11,11.5,12],"labelExpr":"datum.value % 2 === 0 ? datum.label : ''","tickSize":3,"labelPadding":9}},"y":{"field":"s","type":"quantitative","scale":{"domain":[-4.7,107.7],"nice":false,"zero":false},"axis":{"title":null,"values":[0,10,20,30,40,50,60,70,80,90,100],"labels":false,"tickSize":3}},"detail":{"field":"g"}}},
   {"data":{"name":"dos"},"transform":[{"filter":"datum.c == 1"}],"mark":{"type":"point","shape":"circle","filled":true,"size":40,"stroke":"#333","strokeWidth":0.8,"opacity":1},"encoding":{"x":{"field":"t","type":"quantitative"},"y":{"field":"s","type":"quantitative"},"fill":{"field":"g","type":"nominal","scale":{"domain":["Negative","Positive","Double negative","Positive and negative","Double positive"],"range":["#ffffff","#000000","#ffffff","#c8c8c8","#000000"]},"legend":null}}},
   {"data":{"name":"yt"},"mark":{"type":"text","align":"right","baseline":"middle","fontSize":11,"fontWeight":"bold"},"encoding":{"x":{"datum":-0.675,"type":"quantitative"},"y":{"field":"v","type":"quantitative","title":null},"text":{"field":"v","type":"quantitative"}}},
   {"data":{"values":[{}]},"mark":{"type":"text","text":"D","fontSize":14,"align":"left","baseline":"alphabetic"},"encoding":{"x":{"datum":-1.89,"type":"quantitative"},"y":{"datum":119.1,"type":"quantitative"}}},
   {"data":{"values":[{}]},"mark":{"type":"text","text":"OS","fontSize":18,"fontWeight":"bold","align":"center","baseline":"alphabetic"},"encoding":{"x":{"datum":5.91,"type":"quantitative"},"y":{"datum":116,"type":"quantitative"}}},
   {"data":{"values":[{}]},"mark":{"type":"text","text":"(%)","fontSize":9,"fontWeight":"bold","align":"center","baseline":"middle"},"encoding":{"x":{"datum":-1.0,"type":"quantitative"},"y":{"datum":111.5,"type":"quantitative"}}},
   {"data":{"values":[{}]},"mark":{"type":"text","text":"Double negative (n=66)","fontSize":11,"fontWeight":"bold","align":"center","baseline":"middle"},"encoding":{"x":{"datum":8.17,"type":"quantitative"},"y":{"datum":97,"type":"quantitative"}}},
   {"data":{"values":[{}]},"mark":{"type":"text","text":"Positive and negative (n=34)","fontSize":11,"fontWeight":"bold","align":"left","baseline":"middle"},"encoding":{"x":{"datum":5.65,"type":"quantitative"},"y":{"datum":53.1,"type":"quantitative"}}},
   {"data":{"values":[{}]},"mark":{"type":"text","text":"Double positive (n=9)","fontSize":11,"fontWeight":"bold","align":"center","baseline":"middle"},"encoding":{"x":{"datum":3.82,"type":"quantitative"},"y":{"datum":22.5,"type":"quantitative"}}},
   {"data":{"values":[{}]},"mark":{"type":"text","text":"p","fontSize":11,"fontStyle":"italic","align":"right","baseline":"middle"},"encoding":{"x":{"datum":9.21,"type":"quantitative"},"y":{"datum":6.3,"type":"quantitative"}}},
   {"data":{"values":[{}]},"mark":{"type":"text","text":"<0.01","fontSize":11,"fontWeight":"bold","align":"left","baseline":"middle"},"encoding":{"x":{"datum":9.21,"type":"quantitative"},"y":{"datum":6.3,"type":"quantitative"}}},
   {"data":{"values":[{}]},"mark":{"type":"text","text":"(years after Hx)","fontSize":11,"fontWeight":"bold","align":"right","baseline":"middle"},"encoding":{"x":{"datum":12.0,"type":"quantitative"},"y":{"datum":-26,"type":"quantitative"}}}
  ]},
  {"width":283,"height":190,"layer":[
   {"data":{"name":"ddfs"},"mark":{"type":"line","interpolate":"step-after","stroke":"#707070","strokeWidth":1},"encoding":{"x":{"field":"t","type":"quantitative","scale":{"domain":[-0.45,12.27],"nice":false,"zero":false},"axis":{"title":null,"values":[0,0.5,1,1.5,2,2.5,3,3.5,4,4.5,5,5.5,6,6.5,7,7.5,8,8.5,9,9.5,10,10.5,11,11.5,12],"labelExpr":"datum.value % 2 === 0 ? datum.label : ''","tickSize":3,"labelPadding":9}},"y":{"field":"s","type":"quantitative","scale":{"domain":[-4.7,107.7],"nice":false,"zero":false},"axis":{"title":null,"values":[0,10,20,30,40,50,60,70,80,90,100],"labels":false,"tickSize":3}},"detail":{"field":"g"}}},
   {"data":{"name":"ddfs"},"transform":[{"filter":"datum.c == 1"}],"mark":{"type":"point","shape":"circle","filled":true,"size":40,"stroke":"#333","strokeWidth":0.8,"opacity":1},"encoding":{"x":{"field":"t","type":"quantitative"},"y":{"field":"s","type":"quantitative"},"fill":{"field":"g","type":"nominal","scale":{"domain":["Negative","Positive","Double negative","Positive and negative","Double positive"],"range":["#ffffff","#000000","#ffffff","#c8c8c8","#000000"]},"legend":null}}},
   {"data":{"name":"yt"},"mark":{"type":"text","align":"right","baseline":"middle","fontSize":11,"fontWeight":"bold"},"encoding":{"x":{"datum":-0.675,"type":"quantitative"},"y":{"field":"v","type":"quantitative","title":null},"text":{"field":"v","type":"quantitative"}}},
   {"data":{"values":[{}]},"mark":{"type":"text","text":"DFS","fontSize":18,"fontWeight":"bold","align":"center","baseline":"alphabetic"},"encoding":{"x":{"datum":5.08,"type":"quantitative"},"y":{"datum":116,"type":"quantitative"}}},
   {"data":{"values":[{}]},"mark":{"type":"text","text":"(%)","fontSize":9,"fontWeight":"bold","align":"center","baseline":"middle"},"encoding":{"x":{"datum":-0.95,"type":"quantitative"},"y":{"datum":111.5,"type":"quantitative"}}},
   {"data":{"values":[{}]},"mark":{"type":"text","text":"Double negative (n=66)","fontSize":11,"fontWeight":"bold","align":"center","baseline":"middle"},"encoding":{"x":{"datum":6.88,"type":"quantitative"},"y":{"datum":81.7,"type":"quantitative"}}},
   {"data":{"values":[{}]},"mark":{"type":"text","text":"Positive and negative (n=34)","fontSize":11,"fontWeight":"bold","align":"center","baseline":"middle"},"encoding":{"x":{"datum":6.92,"type":"quantitative"},"y":{"datum":29,"type":"quantitative"}}},
   {"data":{"values":[{}]},"mark":{"type":"text","text":"Double positive (n=9)","fontSize":11,"fontWeight":"bold","align":"center","baseline":"middle"},"encoding":{"x":{"datum":3.18,"type":"quantitative"},"y":{"datum":9.6,"type":"quantitative"}}},
   {"data":{"values":[{}]},"mark":{"type":"text","text":"p","fontSize":11,"fontStyle":"italic","align":"right","baseline":"middle"},"encoding":{"x":{"datum":10.4,"type":"quantitative"},"y":{"datum":6.3,"type":"quantitative"}}},
   {"data":{"values":[{}]},"mark":{"type":"text","text":"<0.01","fontSize":11,"fontWeight":"bold","align":"left","baseline":"middle"},"encoding":{"x":{"datum":10.4,"type":"quantitative"},"y":{"datum":6.3,"type":"quantitative"}}},
   {"data":{"values":[{}]},"mark":{"type":"text","text":"(years after Hx)","fontSize":11,"fontWeight":"bold","align":"right","baseline":"middle"},"encoding":{"x":{"datum":12.0,"type":"quantitative"},"y":{"datum":-26,"type":"quantitative"}}}
  ]}
 ]}
]
}
